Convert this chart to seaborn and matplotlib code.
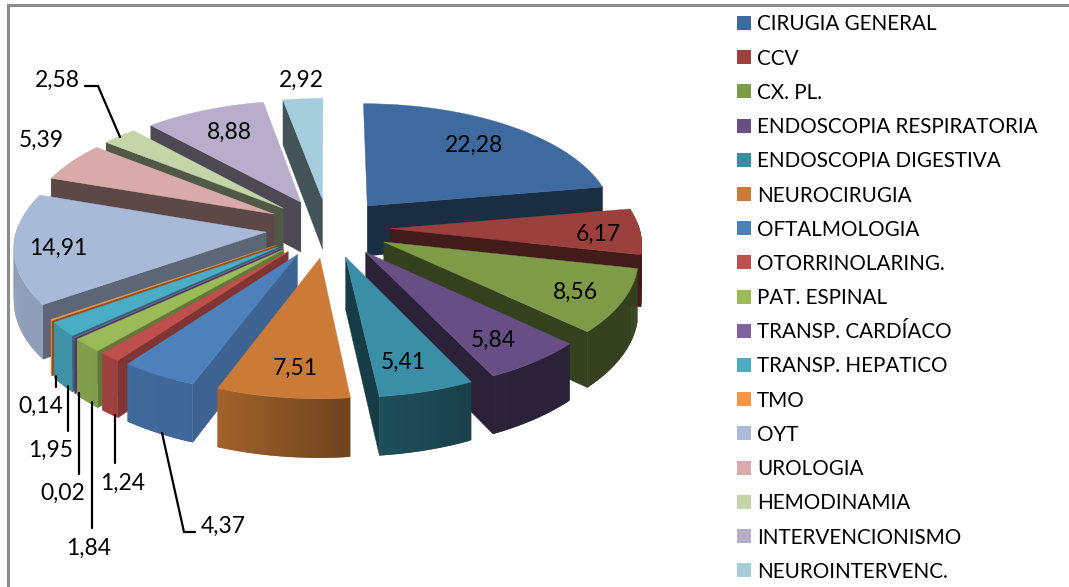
import numpy as np
import pandas as pd
import seaborn as sns
import matplotlib.pyplot as plt

# Data
categories = ["CIRUGIA GENERAL", "CCV", "CX. PL.", "ENDOSCOPIA RESPIRATORIA",
              "ENDOSCOPIA DIGESTIVA", "NEUROCIRUGIA", "OFTALMOLOGIA", "OTORRINOLARING.",
              "PAT. ESPINAL", "TRANSP. CARDÍACO", "TRANSP. HEPATICO", "TMO", "OYT",
              "UROLOGIA", "HEMODINAMIA", "INTERVENCIONISMO", "NEUROINTERVENC."]
values = [22.28, 6.17, 8.56, 5.84, 5.41, 7.51, 4.37, 1.24, 1.84, 0.02, 1.95, 0.14,
          14.91, 5.39, 2.58, 8.88, 2.92]
colors = ["#3E6A9F", "#9C403D", "#7F9B48", "#674F85", "#3A8FA6", "#CB7B37", "#4E80BC",
          "#BE4F4C", "#9BBB59", "#8064A2", "#4BACC6", "#F79646", "#A9BAD8", "#D9AAA9",
          "#C4D5A9", "#B8AECB", "#A6CDDB"]

# Label placement in pixels, same order as values
label_x = [474, 598, 575, 493, 403, 295, 223, 123, 89, 63, 51, 41, 58, 41, 57, 229, 301]
label_y = [144, 233, 291, 339, 361, 367, 525, 482, 547, 492, 449, 405, 247, 139, 79, 131, 79]
leaders = [
    [(85, 86), (98, 86), (120, 137)],
    [(56, 376), (56, 387)],
    [(68, 386), (68, 431)],
    [(79, 393), (79, 474)],
    [(92, 402), (92, 528)],
    [(114.5, 415), (114.5, 463)],
    [(162, 433), (184, 532), (195, 532)],
]

# Projection of the tilted pie
CX, CY = 328, 228
RX, RY = 249, 118
PERSP = 0.11
EXPLODE = 0.25
DEPTH = 51


def project(u, v, z=0.0):
    # u to the right, v to the back, z is the drop below the top face
    f = 1 + PERSP * v
    return CX + RX * u / f, CY - RY * v / f + DEPTH * z / f


def outer_shade(deg):
    return np.interp(deg, [0, 150, 174, 201, 230, 290, 360],
                     [.42, .42, .55, .80, .85, .85, .42])


def cut_shade(deg):
    return np.interp(deg, [0, 180, 200, 235, 290, 360],
                     [.42, .42, .78, .55, .42, .40])


def shaded(color, k):
    return tuple(c * k for c in sns.color_palette([color])[0])


def draw_slice(ax, start, end, color):
    mid = np.radians((start + end) / 2)
    ox, oy = EXPLODE * np.sin(mid), EXPLODE * np.cos(mid)
    theta = np.radians(np.linspace(start, end, max(int(end - start) * 2, 2) + 1))
    us = ox + np.sin(theta)
    vs = oy + np.cos(theta)

    # cut faces first, the one turned to the viewer is what stays visible
    for deg, idx, normal in [(start, 0, start - 90), (end, -1, end + 90)]:
        if np.cos(np.radians(normal)) > 0:
            continue
        xa, ya = project(ox, oy)
        xb, yb = project(us[idx], vs[idx])
        xc, yc = project(us[idx], vs[idx], 1)
        xd, yd = project(ox, oy, 1)
        ax.fill([xa, xb, xc, xd], [ya, yb, yc, yd], color=shaded(color, cut_shade(deg)), lw=0.3)

    # outer wall, only the part facing the front; each strip runs under the next so no seams
    n = len(theta)
    for i in range(n - 1):
        if np.cos(theta[i:i + 2].mean()) > 0.05:
            continue
        j = min(i + 2, n - 1)
        xa, ya = project(us[i], vs[i])
        xb, yb = project(us[j], vs[j])
        xc, yc = project(us[j], vs[j], 1)
        xd, yd = project(us[i], vs[i], 1)
        k = outer_shade(np.degrees(theta[i:i + 2].mean()))
        ax.fill([xa, xb, xc, xd], [ya, yb, yc, yd], color=shaded(color, k), lw=0)

    # top face
    xs, ys = project(np.r_[ox, us], np.r_[oy, vs])
    ax.fill(xs, ys, color=color, lw=0.3)


sns.set_theme(style="white")
plt.rcParams['font.family'] = ['Lato', 'DejaVu Sans']

fig = plt.figure(figsize=(10.69, 5.87), dpi=100)
ax = fig.add_axes([0, 0, 1, 1])
ax.set_xlim(0, 1069)
ax.set_ylim(587, 0)
ax.axis('off')

# Chart frame, only top and left are inside the picture
ax.plot([8, 8, 1069], [587, 5, 5], color="#8C8C8C", lw=2.2, solid_joinstyle='miter')

# Slices, back to front
edges = np.cumsum([0] + values) / sum(values) * 360
order = sorted(range(len(values)), key=lambda i: -np.cos(np.radians((edges[i] + edges[i + 1]) / 2)))
for i in order:
    draw_slice(ax, edges[i], edges[i + 1], colors[i])

# Data labels
for x, y, val in zip(label_x, label_y, values):
    ax.text(x, y + 1.5, f"{val:.2f}".replace(".", ","), ha='center', va='center',
            fontsize=16.5, color="black")
for pts in leaders:
    ax.plot(*zip(*pts), color="black", lw=1.6, solid_joinstyle='miter')

# Legend keys and names
legend_df = pd.DataFrame({"category": categories})
legend_df["y"] = 23 + legend_df.index * 34.2
legend_df["x"] = 744
sns.scatterplot(data=legend_df, x="x", y="y", hue="category", palette=colors, marker='s',
                s=100, linewidth=0, legend=False, ax=ax)
for y, name in zip(legend_df["y"], categories):
    ax.text(757, y + 1.5, name, ha='left', va='center', fontsize=14.9, color="black")
ax.set_xlim(0, 1069)
ax.set_ylim(587, 0)
ax.axis('off')

fig.savefig("out.png", dpi=100)
